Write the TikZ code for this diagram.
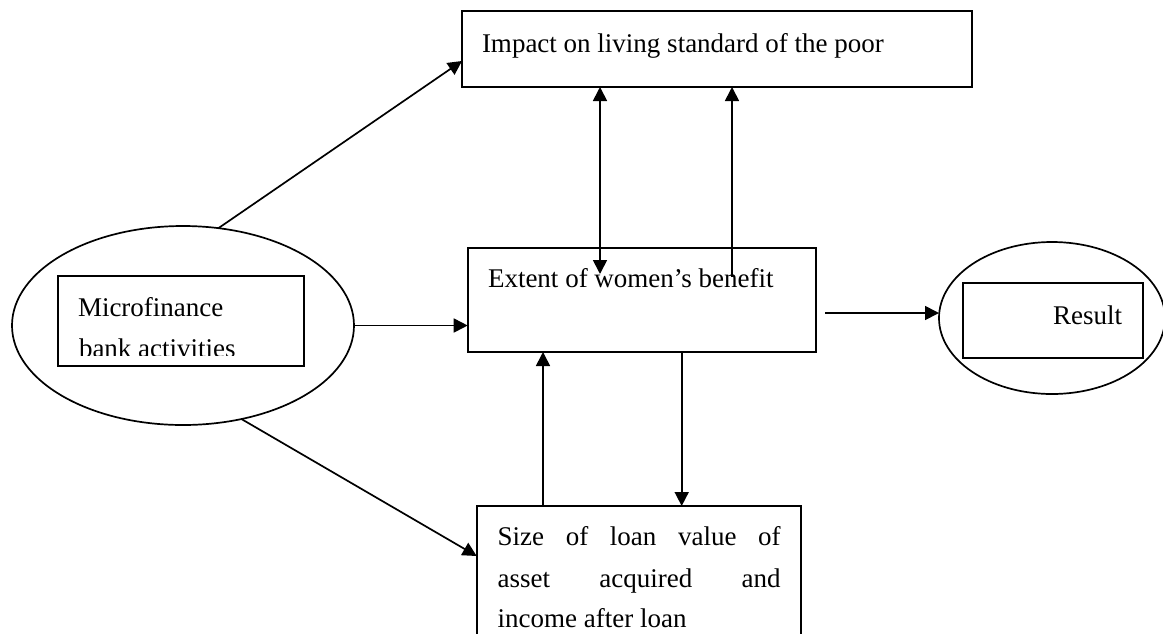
\documentclass[tikz,border=0pt]{standalone}
\usepackage{fontspec}
\setmainfont{Liberation Serif}
\usetikzlibrary{shapes.geometric,arrows.meta}
\begin{document}
\begin{tikzpicture}[x=1pt,y=-1pt,
  line width=1.7pt,
  box/.style={draw,rectangle,anchor=north west,inner sep=0pt,outer sep=0pt,line width=1.7pt},
  oval/.style={draw,ellipse,inner sep=0pt,outer sep=0pt,line width=1.7pt},
  txt/.style={anchor=base west,inner sep=0pt,outer sep=0pt,font=\fontsize{27}{40.5}\selectfont},
  arr/.style={-{Triangle[length=14pt,width=14pt]},line width=1.7pt},
  darr/.style={{Triangle[length=14pt,width=14pt]}-{Triangle[length=14pt,width=14pt]},line width=1.7pt}]
\clip (0,0) rectangle (1163,633);
\fill[white] (0,0) rectangle (1163,633);
% boxes
\node[box,minimum width=510pt,minimum height=76pt] (top) at (462,11) {};
\node[box,minimum width=348.3pt,minimum height=104.3pt] (mid) at (467.7,247.7) {};
\node[box,minimum width=324pt,minimum height=160pt] (bot) at (476.7,506) {};
% ellipses
\node[oval,minimum width=342pt,minimum height=199pt] (ell) at (183,325.5) {};
\node[box,minimum width=246pt,minimum height=90pt] (mfb) at (58,276) {};
\node[oval,minimum width=226pt,minimum height=152pt] (res) at (1052,318) {};
\node[box,minimum width=180pt,minimum height=75pt] (resb) at (963,283) {};
% texts
\node[txt] (ttop) at (482,52) {Impact on living standard of the poor};
\node[txt] (tmid) at (488,287) {Extent of women’s benefit};
\node[txt] (tres) at (1053,324) {Result};
\node[txt] (tmf1) at (78,316) {Microfinance};
\begin{scope}
\clip (58,276) rectangle (304,355.5);
\node[txt] (tmf2) at (79,357) {bank activities};
\end{scope}
\node[txt] (tb1) at (497.7,545.5) {\makebox[283pt][s]{Size of loan value of}};
\node[txt] (tb2) at (497.7,587) {\makebox[283pt][s]{asset acquired and}};
\node[txt] (tb3) at (497.7,627) {income after loan};
% connectors
\coordinate (t1) at (0,61);
\coordinate (t2) at (0,556);
\draw[arr] (ell.70) -- (top.west |- t1);
\draw[arr] (ell.-58) -- (bot.west |- t2);
\draw[arr] (ell.east) -- (ell.east -| mid.west);
\coordinate (d1) at (600,274);
\draw[darr] (d1 |- top.south) -- (d1);
\coordinate (u1) at (732,277);
\draw[arr] (u1) -- (u1 |- top.south);
\coordinate (u2) at (543,0);
\draw[arr] (bot.north -| u2) -- (mid.south -| u2);
\coordinate (u3) at (681.7,0);
\draw[arr] (mid.south -| u3) -- (bot.north -| u3);
\coordinate (rs) at (825,313);
\draw[arr] (rs) -- (rs -| res.west);
\end{tikzpicture}
\end{document}
